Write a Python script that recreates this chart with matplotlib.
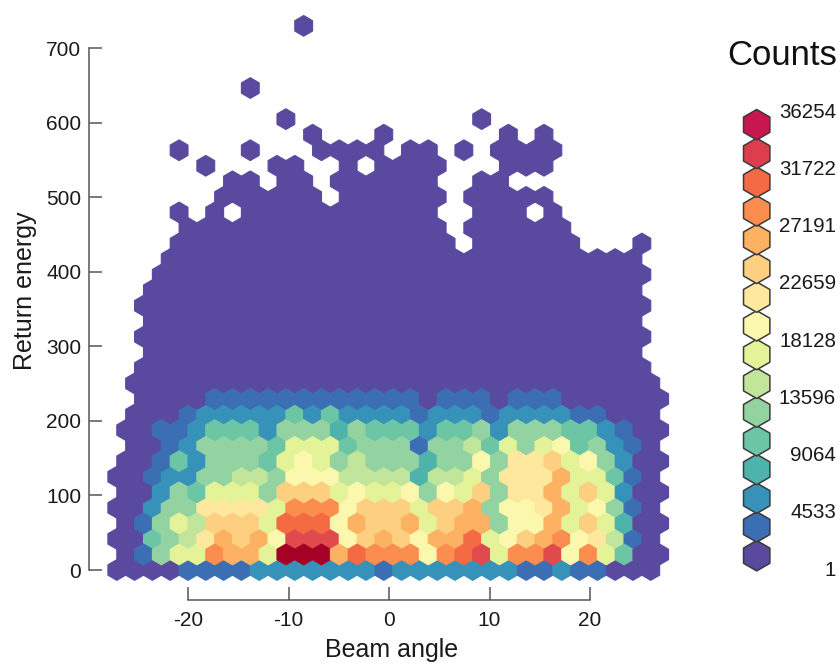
import numpy as np
import matplotlib
matplotlib.use("Agg")
import matplotlib.pyplot as plt
from matplotlib.colors import ListedColormap

plt.rcParams['font.family'] = ['Liberation Sans', 'DejaVu Sans']
plt.rcParams['axes.unicode_minus'] = False

# Colour level (hex digit, 0..f) of each hexagon, one string per row, bottom row first.
# '.' = empty cell.
rows = [
    ".0000111122222221222222211211000",
    ".01577cbb7fffbdccc8cde7cce8c7400",
    ".004569bab8eee8aba8bbd78abc89610",
    ".01576aaa7ddd8baab7abb588b7a7300",
    ".0025599997ccc8aaa7aab5889b78510",
    ".002547775aaa78778587a599b7a7200",
    ".0012255665888666636675999b77410",
    ".001425554787565553558599a785200",
    "..001255554777455515564757845210",
    ".0011244425553544424452555442100",
    "..000122222424222212221222211000",
    "..00001111111111110111" + "0111000000",
    "..000000000000000000000000000000",
    "..00000000000000000000000000000",
    "...0000000000000000000000000000",
    "..00000000000000000000000000000",
    "...0000000000000000000000000000",
    "..00000000000000000000000000000",
    "...0000000000000000000000000000",
    "...0000000000000000000000000000",
    "....000000000000000000000000000",
    "....0000000000000000.000000...0",
    ".....000000000000000.000000",
    "....0.0.00000000000..000.0",
    ".......000000.000000.00000",
    ".......00.00.000000..00",
    "......0...00..0.0000...000",
    "....0...0...0000.00.0.0000",
    "............0...0......0.0",
    "..........0..........0",
    "",
    "........0",
    "",
    "",
    "",
    "...........0",
]

x_ticks = [-20, -10, 0, 10, 20]
y_ticks = [0, 100, 200, 300, 400, 500, 600, 700]
legend_labels = ["1", "4533", "9064", "13596", "18128", "22659", "27191", "31722", "36254"]
max_count = 36254
n_levels = 16
level_colors = ["#5a4a9f", "#3b6eb3", "#3692b9", "#4db3ab", "#6cc5a5", "#93d3a2",
                "#c0e59b", "#e4f398", "#fbf8ae", "#fee89d", "#fdcf80", "#fdb163",
                "#fb8d4e", "#f46a43", "#e04a4c", "#a50026"]
legend_colors = level_colors[:14] + ["#dc3f4b", "#c8174f"]

# hexagon lattice in data units
col_pitch = 1.771
row_pitch = 20.86

xs, ys, counts = [], [], []
for r, row in enumerate(rows):
    for p, ch in enumerate(row):
        if ch == '.':
            continue
        k = p - 5 + (0.5 if r % 2 else 0.0)
        xs.append(-20 + k * col_pitch)
        ys.append(r * row_pitch)
        counts.append(1 + int(ch, 16) * (max_count - 1) / (n_levels - 1))

W, H = 840, 664
fig = plt.figure(figsize=(W / 100, H / 100), dpi=100)

# axes rectangle in pixels: spines sit at left=89, bottom=600
L, R, T, B = 89, 690, 5, 600
ax = fig.add_axes([L / W, 1 - B / H, (R - L) / W, (B - T) / H])

nx, ny = 33, 18
x0 = -20 - 5 * col_pitch
ax.hexbin(xs, ys, C=counts, gridsize=(nx, ny),
          extent=(x0, x0 + nx * col_pitch, 0, ny * 2 * row_pitch),
          reduce_C_function=np.max, cmap=ListedColormap(level_colors), vmin=1, vmax=max_count,
          linewidths=0.8, edgecolors='face', clip_on=False)

px_x = 402 / 40   # px per x unit
px_y = (570 - 48.3) / 700
ax.set_xlim(-20 + (L - 188) / px_x, -20 + (R - 188) / px_x)
ax.set_ylim((570 - B) / px_y, (570 - T) / px_y)

for s in ('top', 'right'):
    ax.spines[s].set_visible(False)
for s in ('left', 'bottom'):
    ax.spines[s].set_color('#555555')
    ax.spines[s].set_linewidth(1.1)
ax.spines['left'].set_bounds(0, 700)
ax.spines['bottom'].set_bounds(-20, 20)
ax.set_xticks(x_ticks)
ax.set_yticks(y_ticks)
ax.tick_params(axis='both', direction='in', length=9.4, width=1.1, color='#555555',
               labelsize=15, labelcolor='#1a1a1a')
ax.tick_params(axis='x', pad=8)
ax.tick_params(axis='y', pad=5.5)
ax.set_xlabel("Beam angle", fontsize=18, color='#1a1a1a')
ax.set_ylabel("Return energy", fontsize=18, color='#1a1a1a')
ax.xaxis.set_label_coords(392 / W, 1 - 650 / H, transform=fig.transFigure)
ax.yaxis.set_label_coords(25 / W, 1 - 291 / H, transform=fig.transFigure)
ax.xaxis.label.set_verticalalignment('center')
ax.yaxis.label.set_verticalalignment('center')

# legend axes: y is the legend level; level 0 at px 555.7, level 15 at px 124.7
step = (555.7 - 124.7) / (n_levels - 1)
lt, lb = 90, 590
lx0, lx1 = 730, 840
lax = fig.add_axes([lx0 / W, 1 - lb / H, (lx1 - lx0) / W, (lb - lt) / H])
lax.set_xlim(lx0, lx1)
lax.set_ylim((555.7 - lb) / step, (555.7 - lt) / step)
lax.axis('off')
levels = np.arange(n_levels)
lax.scatter(np.full(n_levels, 756.7), levels, s=480, marker='h', c=legend_colors,
            edgecolors='#3a3a3a', linewidths=1.1, clip_on=False)
label_pos = np.linspace(-0.5, 15.44, len(legend_labels))
for y, t in zip(label_pos, legend_labels):
    lax.text(836, y, t, ha='right', va='center', fontsize=14.8, color='#1a1a1a')

fig.text(727 / W, 1 - 55.5 / H, "Counts", fontsize=25, color='#111111', ha='left', va='center')

fig.savefig("out.png", dpi=100)
